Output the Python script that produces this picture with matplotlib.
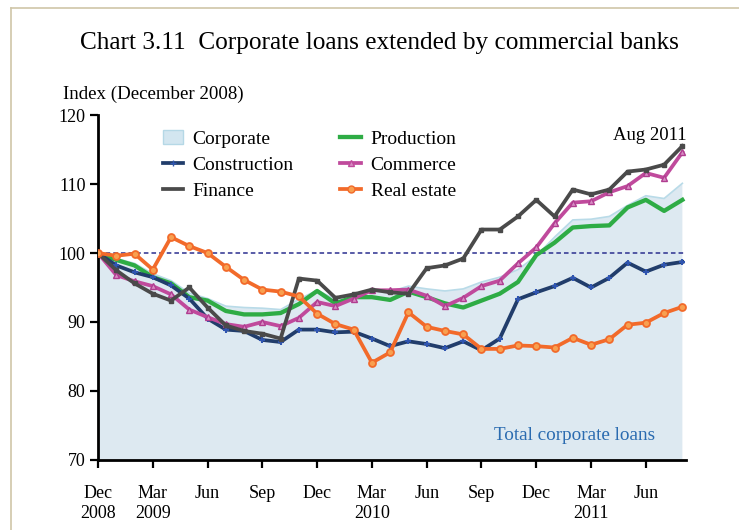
import matplotlib.pyplot as plt
from matplotlib.lines import Line2D
from matplotlib.patches import Patch

# Monthly index values, December 2008 = 100 (Dec 2008 .. Aug 2011)
months = list(range(33))

corporate = [100.0, 99.2, 98.5, 97.0, 96.0, 94.2, 93.4, 92.3, 92.1, 92.0, 91.8,
             93.3, 94.6, 93.3, 94.0, 94.5, 94.4, 95.2, 94.8, 94.5, 94.8, 95.8,
             96.5, 97.6, 99.6, 102.3, 104.8, 104.9, 105.3, 106.9, 108.3, 107.9,
             110.1]
construction = [100.0, 98.2, 97.2, 96.5, 95.3, 93.4, 90.5, 88.9, 88.7, 87.4, 87.1,
                88.9, 88.9, 88.5, 88.6, 87.6, 86.5, 87.2, 86.8, 86.2, 87.2, 85.9,
                87.6, 93.3, 94.3, 95.2, 96.4, 95.0, 96.4, 98.6, 97.3, 98.3, 98.7]
finance = [100.0, 97.5, 95.6, 94.1, 93.1, 95.0, 92.1, 89.5, 88.7, 88.3, 87.6,
           96.3, 96.0, 93.5, 94.0, 94.7, 94.3, 94.1, 97.8, 98.2, 99.2, 103.4,
           103.4, 105.3, 107.7, 105.3, 109.2, 108.5, 109.2, 111.8, 112.1, 112.8,
           115.5]
production = [100.0, 99.0, 98.2, 96.5, 95.6, 93.6, 93.1, 91.6, 91.1, 91.1, 91.3,
              92.6, 94.5, 92.7, 93.6, 93.6, 93.2, 94.4, 93.6, 92.7, 92.1, 93.1,
              94.1, 95.8, 99.7, 101.5, 103.7, 103.9, 104.0, 106.6, 107.7, 106.1,
              107.7]
commerce = [100.0, 96.8, 95.9, 95.2, 94.0, 91.8, 90.7, 89.7, 89.3, 90.0, 89.4,
            90.6, 92.9, 92.3, 93.4, 94.6, 94.6, 94.7, 93.8, 92.3, 93.5, 95.2,
            96.0, 98.5, 100.8, 104.3, 107.3, 107.5, 108.8, 109.7, 111.6, 110.9,
            114.6]
real_estate = [100.0, 99.6, 99.9, 97.6, 102.3, 101.0, 100.0, 98.0, 96.1, 94.7,
               94.4, 93.7, 91.2, 89.7, 88.9, 84.1, 85.6, 91.4, 89.3, 88.7, 88.2,
               86.1, 86.1, 86.6, 86.5, 86.3, 87.7, 86.7, 87.5, 89.6, 89.9, 91.3,
               92.2]

tick_pos = [0, 3, 6, 9, 12, 15, 18, 21, 24, 27, 30]
tick_labels = ["Dec\n2008", "Mar\n2009", "Jun", "Sep", "Dec", "Mar\n2010",
               "Jun", "Sep", "Dec", "Mar\n2011", "Jun"]
y_ticks = [70, 80, 90, 100, 110, 120]

SERIF = "Liberation Serif"
plt.rcParams["font.family"] = SERIF

fig = plt.figure(figsize=(7.39, 5.30), dpi=100)
ax = fig.add_axes([0.1326, 0.1321, 0.7957, 0.6509])

# light-blue area for total corporate loans
ax.fill_between(months, 0, corporate, color="#dde9f1", linewidth=0, zorder=1)
ax.plot(months, corporate, color="#b9dbe8", linewidth=1.2, zorder=1.5)

ax.axhline(100, color="#2b2f8f", linestyle=(0, (3, 2)), linewidth=1.1, zorder=2)

lw = 2.7
ax.plot(months, production, color="#2eac45", linewidth=lw + 0.4, zorder=3)
ax.plot(months, construction, color="#213d6b", linewidth=lw, marker="+",
        markersize=5, markeredgewidth=1.5, markeredgecolor="#2f55b0", zorder=4)
ax.plot(months, commerce, color="#c04a9c", linewidth=lw, marker="^",
        markersize=4.5, markerfacecolor="#d88cc4", markeredgecolor="#b03d90",
        zorder=4)
ax.plot(months, finance, color="#4a4a4a", linewidth=lw, marker="s",
        markersize=2.5, zorder=5)
ax.plot(months, real_estate, color="#f26a2a", linewidth=lw, marker="o",
        markersize=5, markerfacecolor="#f8a050", markeredgecolor="#f26a2a",
        markeredgewidth=1.3, zorder=6)

ax.set_xlim(0, 32.2)
ax.set_ylim(70, 120)
ax.set_yticks(y_ticks)
ax.set_xticks(tick_pos)
ax.set_xticklabels(tick_labels, fontsize=13, linespacing=1.25)
ax.tick_params(axis="y", labelsize=13, direction="out", length=6, width=1.6,
               pad=3)
ax.tick_params(axis="x", direction="out", length=6, width=1.6, pad=12)
for side in ("top", "right"):
    ax.spines[side].set_visible(False)
ax.spines["left"].set_linewidth(2.0)
ax.spines["bottom"].set_linewidth(2.0)

handles = [
    Patch(facecolor="#d3e6f0", edgecolor="#b5d8e6", label="Corporate"),
    Line2D([], [], color="#213d6b", linewidth=lw, marker="+", markersize=5,
           markeredgecolor="#2f55b0", label="Construction"),
    Line2D([], [], color="#4a4a4a", linewidth=lw, label="Finance"),
    Line2D([], [], color="#2eac45", linewidth=lw + 0.4, label="Production"),
    Line2D([], [], color="#c04a9c", linewidth=lw, marker="^", markersize=4.5,
           markerfacecolor="#d88cc4", label="Commerce"),
    Line2D([], [], color="#f26a2a", linewidth=lw, marker="o", markersize=5,
           markerfacecolor="#f8a050", label="Real estate"),
]
ax.legend(handles=handles, ncol=2, frameon=False, fontsize=14,
          loc="upper left", bbox_to_anchor=(0.08, 1.006),
          handlelength=1.05, columnspacing=2.4, labelspacing=0.42,
          handletextpad=0.5)

ax.text(32.25, 117.0, "Aug 2011", fontsize=13.5, ha="right", va="center")
ax.text(21.7, 73.6, "Total corporate loans", fontsize=13.8, color="#2a6bb0",
        ha="left", va="center")

fig.text(0.513, 0.918, "Chart 3.11  Corporate loans extended by commercial banks",
         fontsize=18.2, ha="center", va="center")
fig.text(0.085, 0.822, "Index (December 2008)", fontsize=13.6, ha="left",
         va="center")

# tan page frame along the top and left edges
frame = "#cfc6a8"
fig.add_artist(Line2D([11 / 739, 1], [1 - 8 / 530, 1 - 8 / 530],
                      transform=fig.transFigure, color=frame, linewidth=1.2))
fig.add_artist(Line2D([11 / 739, 11 / 739], [0, 1 - 8 / 530],
                      transform=fig.transFigure, color=frame, linewidth=1.2))

fig.savefig("out.png", dpi=100)
